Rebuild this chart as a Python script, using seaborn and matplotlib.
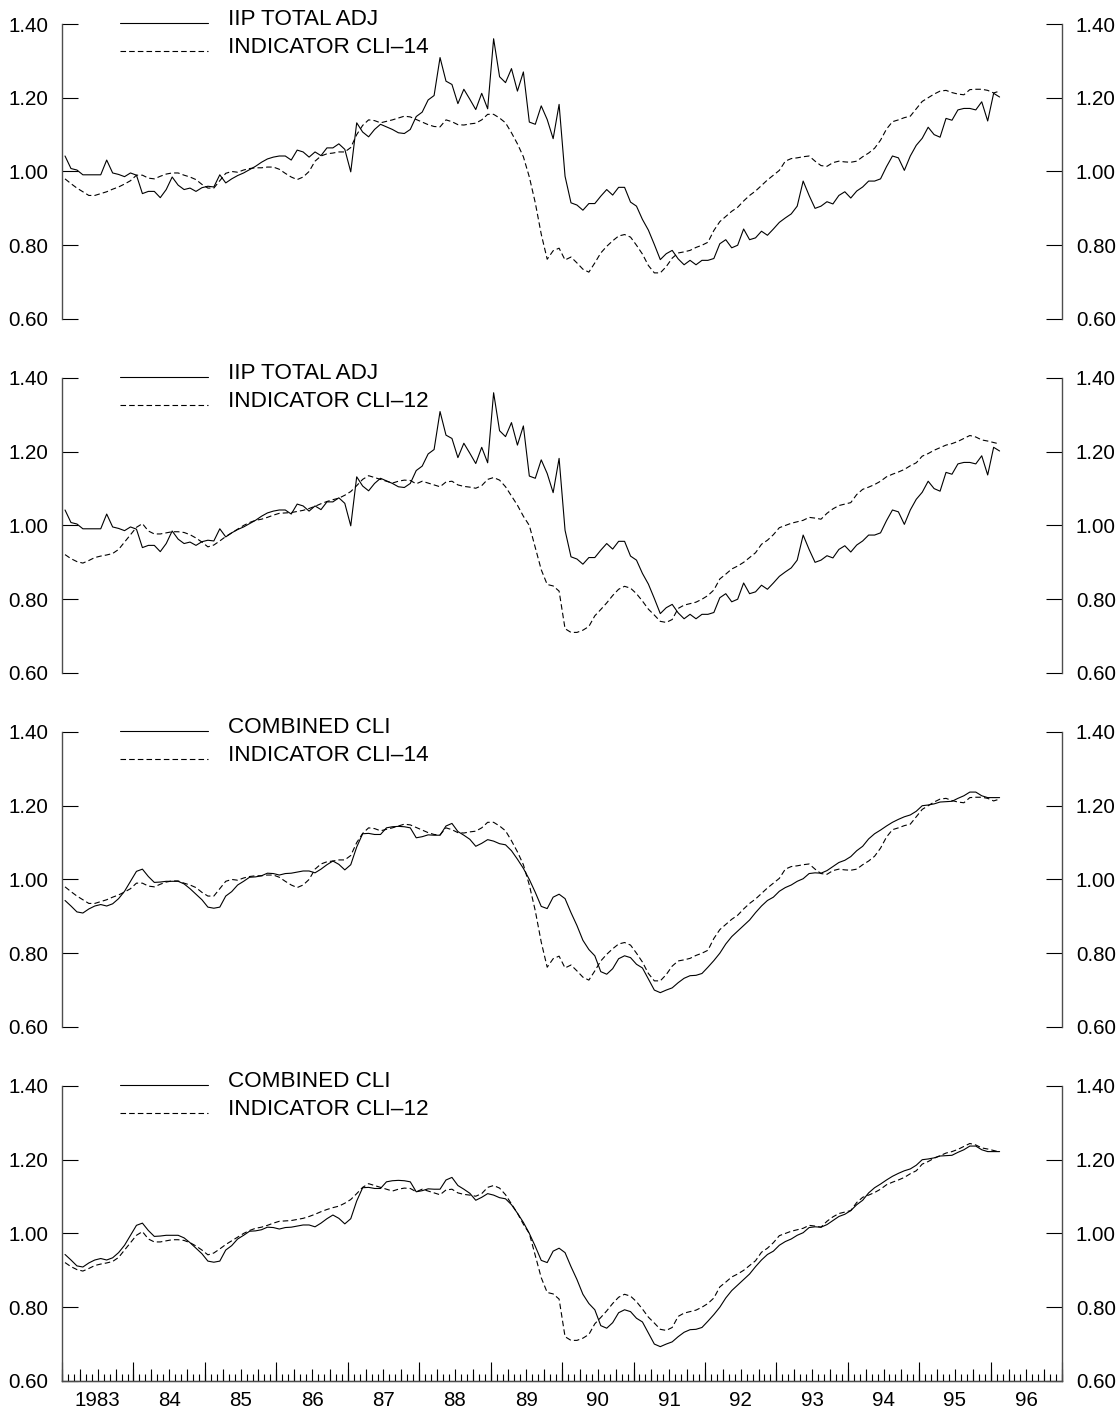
import numpy as np
import pandas as pd
import seaborn as sns
import matplotlib.pyplot as plt
from matplotlib.lines import Line2D
from matplotlib.legend_handler import HandlerLine2D
from matplotlib.ticker import FixedLocator, FormatStrFormatter

# monthly series, starting January 1983
IIP_TOTAL_ADJ = [
    1.042, 1.008, 1.004, 0.991, 0.991, 0.991, 0.991, 1.031, 0.996, 0.992,
    0.986, 0.996, 0.990, 0.940, 0.946, 0.946, 0.929, 0.951, 0.985, 0.963,
    0.951, 0.955, 0.946, 0.956, 0.960, 0.958, 0.991, 0.969, 0.980, 0.989,
    0.996, 1.005, 1.014, 1.025, 1.034, 1.039, 1.042, 1.042, 1.031, 1.058,
    1.053, 1.039, 1.053, 1.043, 1.064, 1.064, 1.075, 1.060, 0.999, 1.132,
    1.107, 1.094, 1.114, 1.128, 1.121, 1.114, 1.105, 1.103, 1.114, 1.149,
    1.161, 1.194, 1.206, 1.309, 1.245, 1.236, 1.184, 1.223, 1.196, 1.168,
    1.212, 1.170, 1.360, 1.257, 1.241, 1.279, 1.218, 1.270, 1.134, 1.128,
    1.178, 1.141, 1.089, 1.182, 0.987, 0.915, 0.909, 0.895, 0.913, 0.913,
    0.933, 0.951, 0.936, 0.957, 0.957, 0.917, 0.906, 0.870, 0.841, 0.802,
    0.761, 0.777, 0.786, 0.763, 0.747, 0.759, 0.747, 0.759, 0.759, 0.764,
    0.804, 0.815, 0.793, 0.800, 0.844, 0.815, 0.820, 0.838, 0.827, 0.844,
    0.862, 0.874, 0.885, 0.906, 0.974, 0.935, 0.900, 0.906, 0.918, 0.912,
    0.935, 0.945, 0.928, 0.947, 0.958, 0.974, 0.974, 0.980, 1.013, 1.042,
    1.037, 1.003, 1.042, 1.071, 1.090, 1.120, 1.100, 1.093, 1.144, 1.139,
    1.167, 1.171, 1.171, 1.167, 1.189, 1.137, 1.212, 1.202,
]

CLI_14 = [
    0.980, 0.967, 0.955, 0.945, 0.935, 0.935, 0.940, 0.945, 0.952, 0.958,
    0.966, 0.975, 0.990, 0.990, 0.982, 0.980, 0.987, 0.993, 0.996, 0.996,
    0.990, 0.985, 0.978, 0.965, 0.955, 0.955, 0.975, 0.995, 1.000, 0.998,
    1.004, 1.008, 1.010, 1.010, 1.012, 1.012, 1.006, 0.995, 0.985, 0.978,
    0.985, 1.000, 1.028, 1.042, 1.048, 1.050, 1.053, 1.053, 1.065, 1.100,
    1.125, 1.140, 1.138, 1.132, 1.136, 1.140, 1.145, 1.150, 1.148, 1.141,
    1.134, 1.127, 1.122, 1.121, 1.140, 1.135, 1.127, 1.126, 1.129, 1.131,
    1.140, 1.155, 1.155, 1.145, 1.132, 1.105, 1.075, 1.040, 0.985, 0.915,
    0.830, 0.762, 0.785, 0.792, 0.760, 0.768, 0.752, 0.735, 0.727, 0.752,
    0.779, 0.797, 0.812, 0.825, 0.829, 0.822, 0.800, 0.776, 0.745, 0.725,
    0.725, 0.742, 0.765, 0.779, 0.782, 0.786, 0.794, 0.800, 0.808, 0.840,
    0.864, 0.878, 0.892, 0.903, 0.920, 0.935, 0.947, 0.962, 0.977, 0.990,
    1.003, 1.028, 1.035, 1.037, 1.040, 1.042, 1.028, 1.016, 1.014, 1.024,
    1.028, 1.026, 1.025, 1.028, 1.040, 1.050, 1.063, 1.085, 1.115, 1.135,
    1.140, 1.146, 1.150, 1.170, 1.190, 1.200, 1.210, 1.218, 1.220, 1.214,
    1.210, 1.208, 1.222, 1.223, 1.223, 1.220, 1.213, 1.218,
]

CLI_12 = [
    0.921, 0.910, 0.902, 0.898, 0.905, 0.913, 0.917, 0.920, 0.924, 0.935,
    0.955, 0.975, 0.995, 1.005, 0.985, 0.977, 0.977, 0.980, 0.983, 0.983,
    0.981, 0.975, 0.966, 0.955, 0.942, 0.947, 0.958, 0.970, 0.980, 0.990,
    1.000, 1.008, 1.014, 1.017, 1.022, 1.028, 1.033, 1.034, 1.035, 1.038,
    1.041, 1.046, 1.052, 1.059, 1.065, 1.070, 1.074, 1.082, 1.092, 1.108,
    1.125, 1.135, 1.130, 1.125, 1.120, 1.115, 1.120, 1.123, 1.122, 1.113,
    1.120, 1.115, 1.110, 1.105, 1.118, 1.120, 1.110, 1.106, 1.104, 1.101,
    1.108, 1.125, 1.130, 1.123, 1.105, 1.080, 1.055, 1.025, 1.000, 0.940,
    0.880, 0.840, 0.836, 0.822, 0.720, 0.710, 0.710, 0.716, 0.726, 0.755,
    0.772, 0.790, 0.810, 0.827, 0.835, 0.830, 0.815, 0.795, 0.773, 0.757,
    0.740, 0.737, 0.745, 0.775, 0.784, 0.788, 0.792, 0.800, 0.810, 0.825,
    0.855, 0.868, 0.882, 0.890, 0.900, 0.913, 0.926, 0.949, 0.960, 0.975,
    0.994, 1.000, 1.006, 1.010, 1.014, 1.022, 1.020, 1.017, 1.033, 1.045,
    1.054, 1.058, 1.062, 1.084, 1.098, 1.104, 1.111, 1.120, 1.132, 1.139,
    1.145, 1.152, 1.162, 1.170, 1.188, 1.195, 1.204, 1.211, 1.218, 1.222,
    1.228, 1.236, 1.244, 1.240, 1.232, 1.229, 1.225, 1.221,
]

COMBINED_CLI = [
    0.943, 0.928, 0.912, 0.909, 0.920, 0.928, 0.932, 0.928, 0.934, 0.948,
    0.968, 0.995, 1.022, 1.028, 1.008, 0.992, 0.993, 0.995, 0.995, 0.995,
    0.988, 0.975, 0.960, 0.945, 0.925, 0.922, 0.925, 0.955, 0.967, 0.985,
    0.995, 1.006, 1.007, 1.010, 1.017, 1.016, 1.012, 1.016, 1.017, 1.020,
    1.023, 1.023, 1.018, 1.028, 1.040, 1.050, 1.041, 1.026, 1.040, 1.088,
    1.124, 1.125, 1.122, 1.122, 1.140, 1.143, 1.144, 1.143, 1.140, 1.113,
    1.116, 1.121, 1.120, 1.120, 1.145, 1.152, 1.130, 1.120, 1.109, 1.090,
    1.098, 1.108, 1.104, 1.097, 1.094, 1.078, 1.055, 1.030, 1.000, 0.965,
    0.927, 0.921, 0.952, 0.960, 0.948, 0.910, 0.875, 0.835, 0.810, 0.793,
    0.750, 0.743, 0.758, 0.785, 0.793, 0.788, 0.770, 0.760, 0.730, 0.700,
    0.693, 0.700, 0.706, 0.720, 0.732, 0.739, 0.740, 0.745, 0.762, 0.780,
    0.800, 0.825, 0.845, 0.860, 0.875, 0.890, 0.910, 0.928, 0.943, 0.952,
    0.968, 0.978, 0.985, 0.995, 1.002, 1.016, 1.018, 1.017, 1.024, 1.035,
    1.046, 1.052, 1.062, 1.078, 1.090, 1.110, 1.124, 1.134, 1.145, 1.155,
    1.163, 1.170, 1.175, 1.185, 1.200, 1.202, 1.205, 1.210, 1.211, 1.212,
    1.220, 1.227, 1.237, 1.237, 1.227, 1.222, 1.222, 1.222,
]

YEARS = list(range(1983, 1997))
YEAR_LABELS = ['1983'] + [str(y)[2:] for y in YEARS[1:]]
Y_TICKS = [0.60, 0.80, 1.00, 1.20, 1.40]

dates = pd.date_range('1983-01-01', periods=len(IIP_TOTAL_ADJ), freq='MS')
df = pd.DataFrame({
    # each month drawn at its middle
    't': dates.year + (dates.month - 0.5) / 12.0,
    'IIP TOTAL ADJ': IIP_TOTAL_ADJ,
    'INDICATOR CLI\u201314': CLI_14,
    'INDICATOR CLI\u201312': CLI_12,
    'COMBINED CLI': COMBINED_CLI,
})

panels = [
    ('IIP TOTAL ADJ', 'INDICATOR CLI\u201314'),
    ('IIP TOTAL ADJ', 'INDICATOR CLI\u201312'),
    ('COMBINED CLI', 'INDICATOR CLI\u201314'),
    ('COMBINED CLI', 'INDICATOR CLI\u201312'),
]


class LowLine(HandlerLine2D):
    # legend sample sits a little below the middle of its label
    def create_artists(self, legend, orig_handle, xdescent, ydescent,
                       width, height, fontsize, trans):
        return super().create_artists(legend, orig_handle, xdescent,
                                      ydescent + 0.55 * fontsize, width, height,
                                      fontsize, trans)


sns.set_style('white')
plt.rcParams['font.family'] = ['Liberation Sans', 'DejaVu Sans']
plt.rcParams['text.color'] = 'black'
plt.rcParams['xtick.color'] = 'black'
plt.rcParams['ytick.color'] = 'black'
spine_col = '0.3'

fig = plt.figure(figsize=(11.2, 14.12), dpi=100)
bottoms = [0.7741, 0.5234, 0.2727, 0.0220]

for k, (solid, dashed) in enumerate(panels):
    ax = fig.add_axes([0.0554, bottoms[k], 0.8929, 0.2089])
    sns.lineplot(data=df, x='t', y=solid, color='black', linewidth=0.8,
                 label=solid, ax=ax, sort=False, estimator=None)
    sns.lineplot(data=df, x='t', y=dashed, color='black', linewidth=0.8,
                 linestyle=(0, (5, 2.8)), label=dashed, ax=ax, sort=False, estimator=None)
    ax.set(xlabel=None, ylabel=None)
    ax.set_xlim(1983, 1997)
    ax.set_ylim(0.6, 1.4)

    for s in ['left', 'right', 'bottom']:
        ax.spines[s].set_color(spine_col)
        ax.spines[s].set_linewidth(1.0)
    ax.spines['top'].set_visible(False)

    ax.yaxis.set_major_locator(FixedLocator(Y_TICKS))
    ax.yaxis.set_major_formatter(FormatStrFormatter('%.2f'))
    ax.tick_params(axis='y', which='major', direction='in', length=11.5, width=0.8,
                   left=True, right=True, labelleft=True, labelright=True,
                   labelsize=14.8, pad=10, color='black', labelcolor='black')

    ax.legend(loc='upper left', bbox_to_anchor=(0.058, 1.052), frameon=False,
              fontsize=16.2, handlelength=3.9, handletextpad=0.9,
              labelspacing=0.32, borderpad=0, borderaxespad=0,
              handler_map={Line2D: LowLine()})

    if k < 3:
        ax.spines['bottom'].set_visible(False)
        ax.set_xticks([])
        # longer stub at the bottom of both y axes
        ax.yaxis.set_minor_locator(FixedLocator([0.6]))
        ax.tick_params(axis='y', which='minor', direction='in', length=20, width=0.8,
                       left=True, right=True, color='black')
    else:
        ax.set_xticks([y + 0.5 for y in YEARS])
        ax.set_xticklabels(YEAR_LABELS)
        ax.tick_params(axis='x', which='major', length=0, labelsize=14.8, pad=7,
                       labelcolor='black')
        ax.set_xticks(np.arange(1983, 1997 + 1e-9, 1 / 12), minor=True)
        ax.tick_params(axis='x', which='minor', direction='in', length=5, width=0.8,
                       bottom=True, color='black')
        sec_q = ax.secondary_xaxis('bottom')
        sec_q.set_xticks(np.arange(1983, 1997 + 1e-9, 0.25))
        sec_q.tick_params(direction='in', length=9, width=0.8, bottom=True,
                          labelbottom=False, color='black')
        sec_q.spines['bottom'].set_color(spine_col)
        sec_y = ax.secondary_xaxis('bottom')
        sec_y.set_xticks(YEARS + [1997])
        sec_y.tick_params(direction='in', length=14, width=0.8, bottom=True,
                          labelbottom=False, color='black')
        sec_y.spines['bottom'].set_color(spine_col)

fig.savefig('out.png', dpi=100)
